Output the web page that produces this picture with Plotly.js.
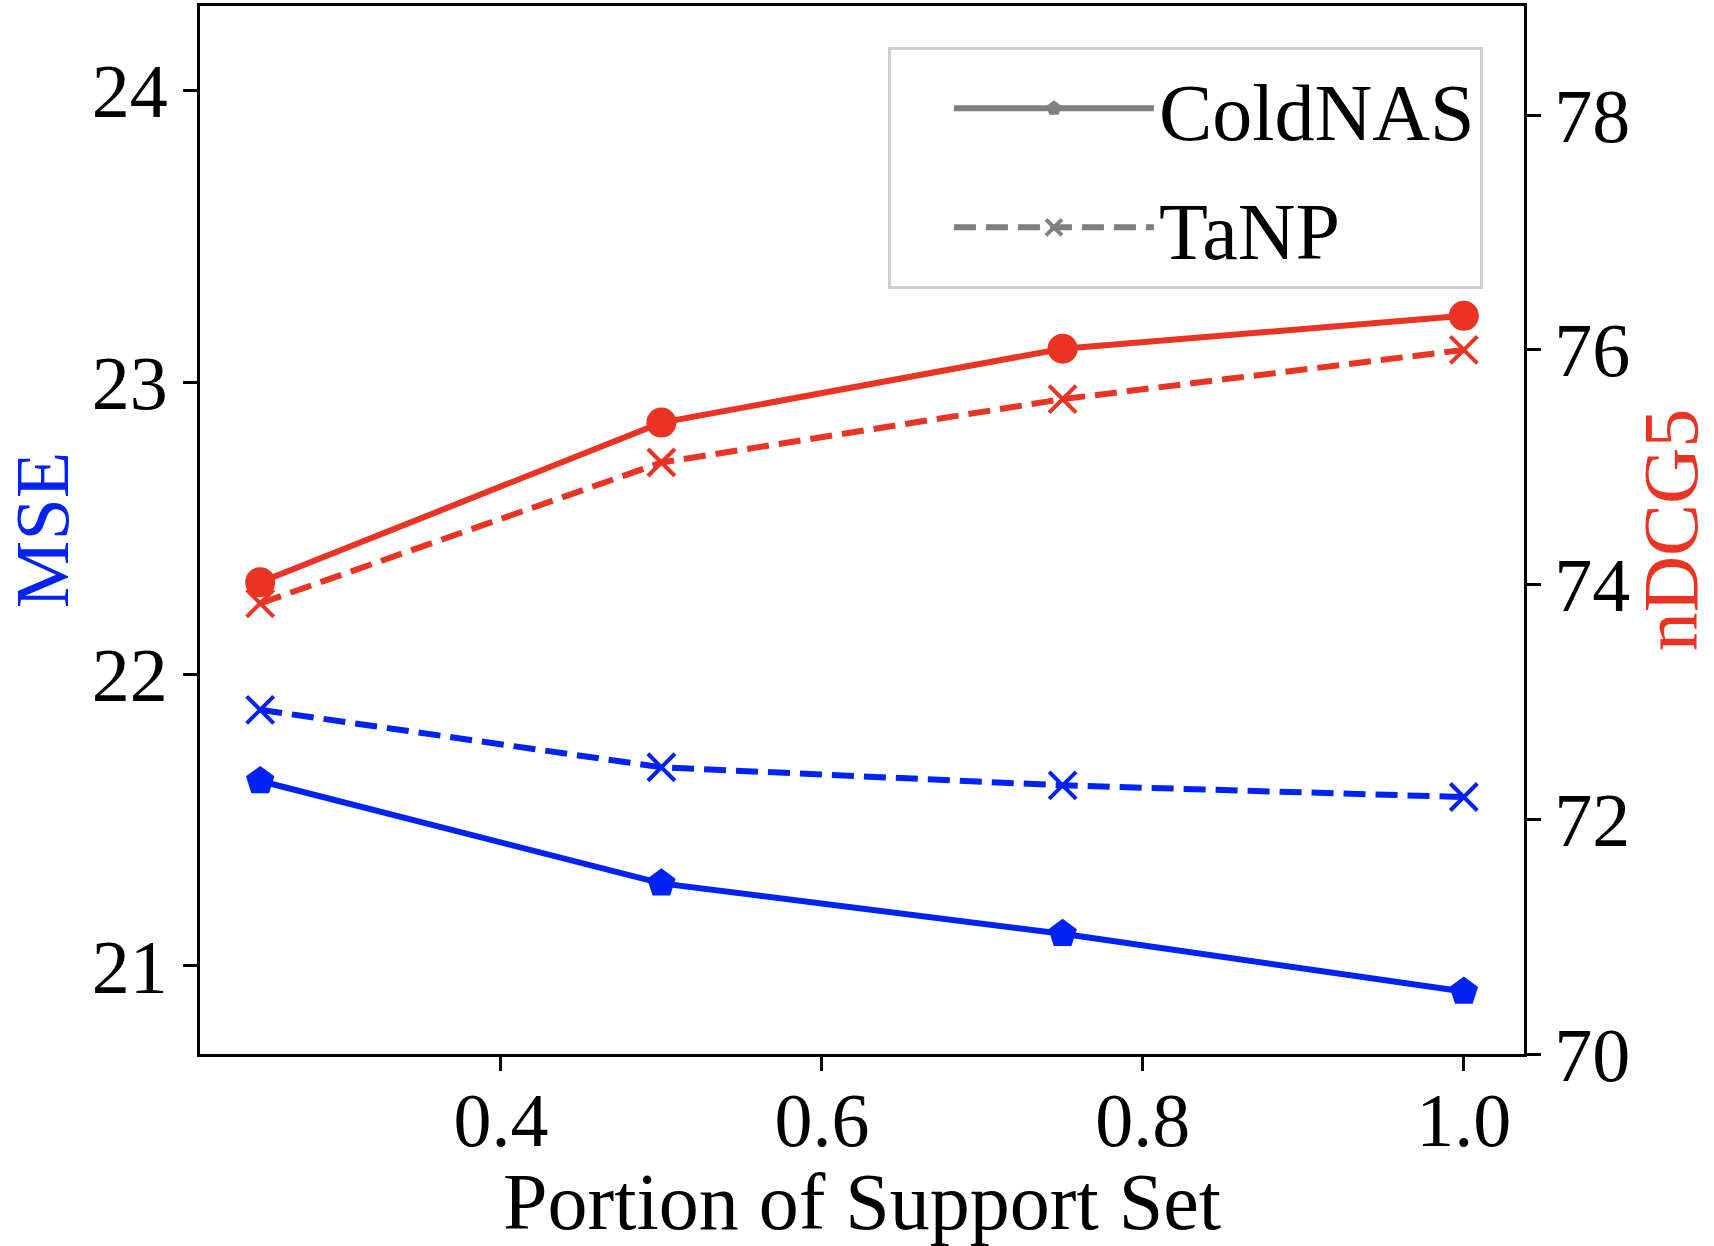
<!DOCTYPE html>
<html>
<head>
<meta charset="utf-8">
<script src="https://cdn.plot.ly/plotly-3.0.1.min.js"></script>
<style>
  html, body { margin: 0; padding: 0; background: #fff; }
  #chart { width: 1714px; height: 1246px; }
</style>
</head>
<body>
<div id="chart"></div>
<script>
// values
const portion = [0.25, 0.5, 0.75, 1.0];

const mseColdNAS = [21.634, 21.283, 21.110, 20.912];
const mseTaNP = [21.878, 21.681, 21.619, 21.579];

const ndcgColdNAS = [74.02, 75.38, 76.01, 76.29];
const ndcgTaNP = [73.84, 75.04, 75.58, 76.00];

const xTickVals = [0.4, 0.6, 0.8, 1.0];
const xTickText = ["0.4", "0.6", "0.8", "1.0"];
const mseTickVals = [21, 22, 23, 24];
const ndcgTickVals = [70, 72, 74, 76, 78];

const blue = "#0022f5";
const red = "#ea3323";
const grey = "#808080";
const serif = "Liberation Serif, Times New Roman, serif";

const traces = [];

// MSE, left axis
traces.push({
    x: portion,
    y: mseColdNAS,
    mode: "lines+markers",
    line: { color: blue, width: 6 },
    marker: { symbol: "pentagon", size: 30, color: blue },
    showlegend: false,
    yaxis: "y"
});

traces.push({
    x: portion,
    y: mseTaNP,
    mode: "lines+markers",
    line: { color: blue, width: 6, dash: "22px,10px" },
    marker: { symbol: "x-thin", size: 27, color: blue, line: { color: blue, width: 4 } },
    showlegend: false,
    yaxis: "y"
});

// nDCG5, right axis
traces.push({
    x: portion,
    y: ndcgColdNAS,
    mode: "lines+markers",
    line: { color: red, width: 6 },
    marker: { symbol: "circle", size: 30, color: red },
    showlegend: false,
    yaxis: "y2"
});

traces.push({
    x: portion,
    y: ndcgTaNP,
    mode: "lines+markers",
    line: { color: red, width: 6, dash: "22px,10px" },
    marker: { symbol: "x-thin", size: 27, color: red, line: { color: red, width: 4 } },
    showlegend: false,
    yaxis: "y2"
});

// grey legend entries
traces.push({
    x: [null],
    y: [null],
    mode: "lines+markers",
    name: "ColdNAS",
    legendgroup: "coldnas",
    line: { color: grey, width: 6 },
    marker: { symbol: "pentagon", size: 16, color: grey }
});

traces.push({
    x: [null],
    y: [null],
    mode: "lines+markers",
    name: "TaNP",
    legendgroup: "tanp",
    line: { color: grey, width: 6, dash: "22px,10px" },
    marker: { symbol: "x-thin", size: 16, color: grey, line: { color: grey, width: 4 } }
});

const axisCommon = {
    showgrid: false,
    zeroline: false,
    showline: true,
    linecolor: "black",
    linewidth: 3,
    ticks: "outside",
    ticklen: 14,
    tickwidth: 3,
    tickcolor: "black",
    tickfont: { family: serif, size: 76, color: "black" }
};

const layout = {
    width: 1714,
    height: 1246,
    margin: { l: 200, r: 190, t: 6, b: 192 },
    paper_bgcolor: "white",
    plot_bgcolor: "white",
    font: { family: serif, color: "black" },

    xaxis: Object.assign({}, axisCommon, {
        range: [0.2125, 1.0375],
        tickvals: xTickVals,
        ticktext: xTickText,
        mirror: true,
        ticklabelstandoff: -16,
        title: { text: "Portion of Support Set", font: { family: serif, size: 80 }, standoff: 36 }
    }),

    yaxis: Object.assign({}, axisCommon, {
        range: [20.698, 24.291],
        tickvals: mseTickVals,
        ticktext: mseTickVals.map(String),
        ticklabelstandoff: 0,
        title: { text: "MSE", font: { family: serif, size: 76, color: blue }, standoff: 54 }
    }),

    yaxis2: Object.assign({}, axisCommon, {
        overlaying: "y",
        side: "right",
        range: [70, 78.93],
        tickvals: ndcgTickVals,
        ticktext: ndcgTickVals.map(String),
        ticklabelstandoff: -2,
        title: { text: "nDCG5", font: { family: serif, size: 78, color: red }, standoff: 34 }
    }),

    legend: {
        x: 0.969,
        y: 0.961,
        xanchor: "right",
        yanchor: "top",
        bgcolor: "white",
        bordercolor: "#d0d0d0",
        borderwidth: 3,
        font: { family: serif, size: 80, color: "black" },
        indentation: 58,
        itemwidth: 200,
        traceorder: "grouped",
        tracegroupgap: 12
    },

    showlegend: true
};

Plotly.newPlot("chart", traces, layout, { displayModeBar: false, staticPlot: true });
</script>
</body>
</html>
